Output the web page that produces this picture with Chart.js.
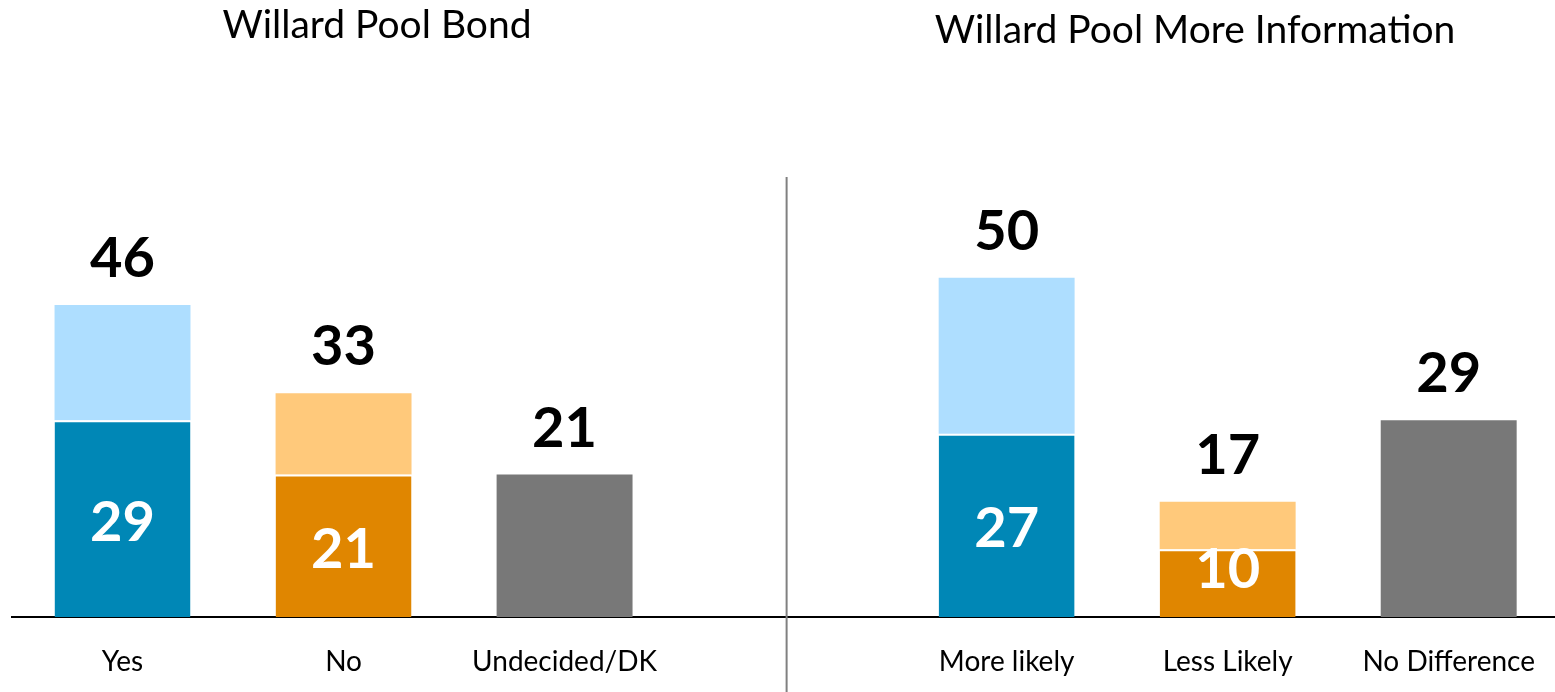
<!DOCTYPE html>
<html>
<head>
<meta charset="utf-8">
<script src="https://cdn.jsdelivr.net/npm/chart.js@4"></script>
<style>
  html, body { margin: 0; padding: 0; background: #fff; overflow: hidden; }
  #wrap { width: 1563px; height: 692px; }
</style>
</head>
<body>
<div id="wrap"><canvas id="c" width="1563" height="692"></canvas></div>
<script>
// ---- data ----
const categories = ['Yes', 'No', 'Undecided/DK', '', 'More likely', 'Less Likely', 'No Difference'];
const strongValues = [29, 21, null, null, 27, 10, null];   // dark segment
const softValues = [17, 12, null, null, 23, 7, null];      // light segment
const neutralValues = [null, null, 21, null, null, null, 29];
const totalLabels = [46, 33, 21, null, 50, 17, 29];
const innerLabels = [29, 21, null, null, 27, 10, null];
const panelTitles = ['Willard Pool Bond', 'Willard Pool More Information'];

// ---- styles ----
const darkColors = ['#0087B6', '#E08600', null, null, '#0087B6', '#E08600', null];
const lightColors = ['#AEDEFF', '#FFC97B', null, null, '#AEDEFF', '#FFC97B', null];
const grayColor = '#787878';
const FONT = 'Lato, "Open Sans", sans-serif';

const labelPlugin = {
  id: 'labels',
  afterDatasetsDraw(chart) {
    const ctx = chart.ctx;
    const xs = chart.scales.x, ys = chart.scales.y;
    const base = ys.getPixelForValue(0);
    ctx.save();
    ctx.textAlign = 'center';
    // totals above bars
    ctx.font = 'bold 56px ' + FONT;
    ctx.fillStyle = '#000';
    ctx.textBaseline = 'alphabetic';
    totalLabels.forEach((v, i) => {
      if (v == null) return;
      const top = ys.getPixelForValue(v);
      ctx.fillText(String(v), xs.getPixelForValue(i), top - 28);
    });
    // inner labels in dark segment
    ctx.fillStyle = '#fff';
    ctx.textBaseline = 'middle';
    innerLabels.forEach((v, i) => {
      if (v == null) return;
      const top = ys.getPixelForValue(strongValues[i]);
      let y = (top + base) / 2 + 4;
      y = Math.min(y, base - 47);
      ctx.fillText(String(v), xs.getPixelForValue(i), y);
    });
    // panel titles
    ctx.font = '39px ' + FONT;
    ctx.fillStyle = '#000';
    ctx.textBaseline = 'alphabetic';
    ctx.fillText(panelTitles[0], 377, 38);
    ctx.fillText(panelTitles[1], 1195, 43);
    // divider
    const dx = xs.getPixelForValue(3) + 1;
    ctx.strokeStyle = '#808080';
    ctx.lineWidth = 2;
    ctx.beginPath();
    ctx.moveTo(dx, 177);
    ctx.lineTo(dx, 692);
    ctx.stroke();
    ctx.restore();
  }
};

new Chart(document.getElementById('c'), {
  type: 'bar',
  data: {
    labels: categories,
    datasets: [
      {
        label: 'strong',
        data: strongValues,
        backgroundColor: darkColors,
        borderColor: '#fff',
        borderWidth: { top: 2, left: 0, right: 0, bottom: 0 },
        borderSkipped: false,
        stack: 's'
      },
      {
        label: 'soft',
        data: softValues,
        backgroundColor: lightColors,
        borderWidth: 0,
        stack: 's'
      },
      {
        label: 'neutral',
        data: neutralValues,
        backgroundColor: grayColor,
        borderWidth: 0,
        stack: 's'
      }
    ]
  },
  options: {
    responsive: false,
    animation: false,
    devicePixelRatio: 1,
    layout: { padding: { top: 210, left: 12, right: 0, bottom: 0 } },
    plugins: { legend: { display: false }, tooltip: { enabled: false }, title: { display: false } },
    datasets: { bar: { categoryPercentage: 1, barPercentage: 0.615 } },
    scales: {
      x: {
        stacked: true,
        grid: { display: false, drawTicks: false },
        border: { display: true, color: '#000', width: 2 },
        ticks: { color: '#000', font: { family: FONT, size: 28 }, padding: 28, maxRotation: 0, autoSkip: false },
        afterFit(scale) { scale.height = 75; }
      },
      y: {
        stacked: true,
        display: false,
        min: 0,
        max: 60
      }
    }
  },
  plugins: [labelPlugin]
});
</script>
</body>
</html>
